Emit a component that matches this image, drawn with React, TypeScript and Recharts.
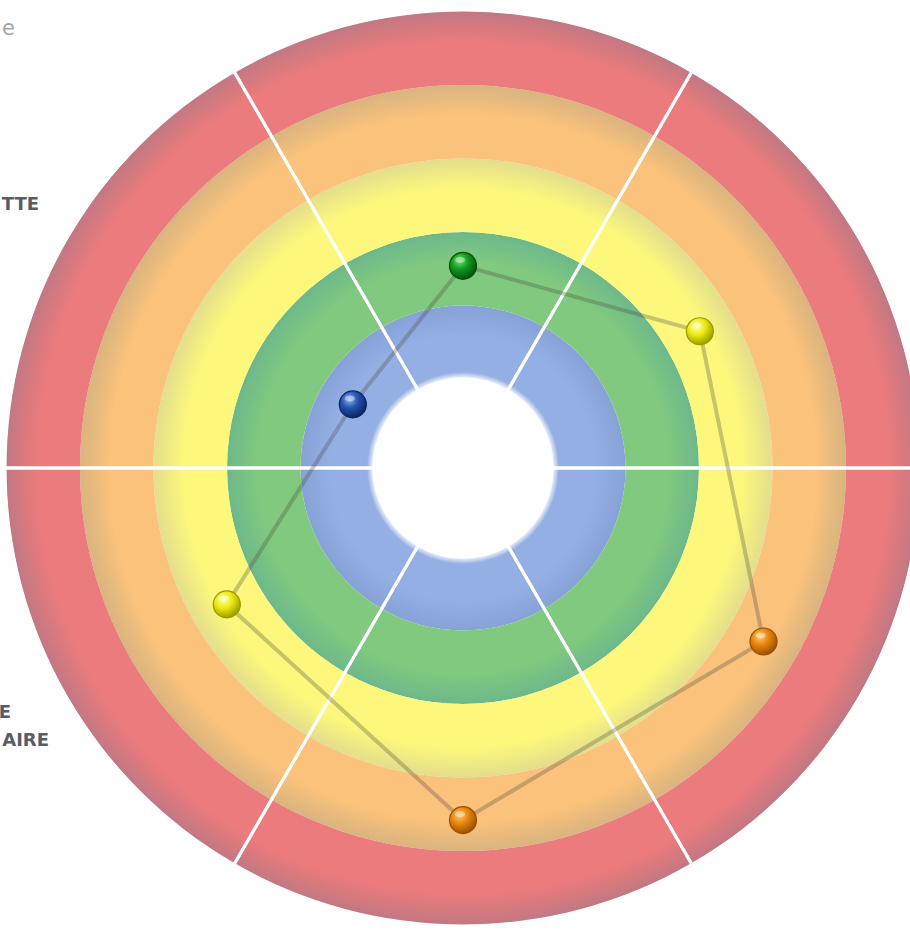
import React from "react";
import { PieChart, Pie, Cell, RadarChart, Radar, PolarAngleAxis, PolarRadiusAxis } from "recharts";

// six axes, clockwise from the top
const axes = ["A1", "A2", "A3", "A4", "A5", "A6"];
const scores = [1.54, 2.51, 3.51, 3.58, 2.5, 0.52];

// bands 0-1 .. 4-5 (blue, green, yellow, orange, red)
const bands = [1, 2, 3, 4, 5];
const sectors = [1, 1, 1, 1, 1, 1];

const W = 910;
const H = 932;
const CX = 463;
const CY = 468;
const INNER = 89;
const STEP = 73.5;
const MAX = 5;

const ringBase = ["#94afe4", "#80c97f", "#fdf87b", "#fbc27b", "#eb7b7c"];
const ringEdge = ["#86a2d6", "#6db88b", "#e3de8c", "#d9b47f", "#c27883"];

const balls: Record<string, string[]> = {
  blue: ["#8fb2f0", "#2352b0", "#0a2560"],
  green: ["#6fe06f", "#139a1f", "#04500a"],
  yellow: ["#ffffb0", "#ecec12", "#9a9a00"],
  orange: ["#ffc870", "#e9860e", "#985000"],
};
const ballForBand = ["blue", "green", "yellow", "orange", "orange"];

const data = axes.map((axe, i) => ({ axe, score: scores[i] }));

const rIn = (k: number) => INNER + k * STEP;

function Ball(props: any) {
  const { cx, cy, payload, index } = props;
  let v = payload?.score ?? payload?.payload?.score;
  if (typeof v !== "number") v = typeof props.value === "number" ? props.value : scores[index] ?? 0;
  const name = ballForBand[Math.min(4, Math.floor(v))];
  const dark = balls[name][2];
  return (
    <g key={`ball-${index}`}>
      <circle cx={cx} cy={cy} r={13.5} fill={`url(#ball-${name})`} stroke={dark} strokeWidth={1.2} />
      <ellipse cx={cx - 3} cy={cy - 6} rx={5} ry={3} fill="#fff" opacity={0.4} />
    </g>
  );
}

const labelStyle: React.CSSProperties = {
  position: "absolute",
  fontFamily: "DejaVu Sans, sans-serif",
  fontWeight: "bold",
  fontSize: 18,
  color: "#565d66",
  whiteSpace: "nowrap",
  lineHeight: "20px",
};

export default function App() {
  return (
    <div style={{ position: "absolute", left: 0, top: 0, width: W, height: H, overflow: "hidden", background: "#fff" }}>
      <div style={{ position: "absolute", left: 0, top: 0 }}>
        <PieChart width={W} height={H} margin={{ top: 0, right: 0, bottom: 0, left: 0 }}>
          <defs>
            {bands.map((b, k) => {
              const ri = rIn(k);
              const ro = rIn(k + 1);
              const f = (r: number) => `${(r / ro) * 100}%`;
              return (
                <radialGradient key={b} id={`ring-${k}`} gradientUnits="userSpaceOnUse" cx={CX} cy={CY} r={ro}>
                  <stop offset={f(ri)} stopColor={k === 0 ? "#ffffff" : ringBase[k]} />
                  <stop offset={f(ri + (k === 0 ? 7 : 2))} stopColor={ringBase[k]} />
                  <stop offset={f(ro - 30)} stopColor={ringBase[k]} />
                  <stop offset="100%" stopColor={ringEdge[k]} />
                </radialGradient>
              );
            })}
          </defs>
          {bands.map((b, k) => (
            <Pie
              key={b}
              data={[{ band: b, value: 1 }]}
              dataKey="value"
              cx={CX}
              cy={CY}
              innerRadius={rIn(k)}
              outerRadius={rIn(k + 1)}
              startAngle={0}
              endAngle={360}
              stroke="none"
              isAnimationActive={false}
            >
              <Cell fill={`url(#ring-${k})`} />
            </Pie>
          ))}
          <Pie
            data={sectors.map((v, i) => ({ name: `s${i}`, value: v }))}
            dataKey="value"
            cx={CX}
            cy={CY}
            innerRadius={INNER}
            outerRadius={rIn(MAX) + 2}
            startAngle={0}
            endAngle={360}
            fill="none"
            stroke="#ffffff"
            strokeWidth={3}
            isAnimationActive={false}
          />
        </PieChart>
      </div>
      <div style={{ position: "absolute", left: 0, top: 0 }}>
        <RadarChart
          width={W}
          height={H}
          data={data}
          cx={CX}
          cy={CY}
          innerRadius={INNER}
          outerRadius={rIn(MAX)}
          margin={{ top: 0, right: 0, bottom: 0, left: 0 }}
        >
          <defs>
            {Object.keys(balls).map((name) => (
              <radialGradient key={name} id={`ball-${name}`} cx="38%" cy="32%" r="70%">
                <stop offset="0%" stopColor={balls[name][0]} />
                <stop offset="45%" stopColor={balls[name][1]} />
                <stop offset="100%" stopColor={balls[name][2]} />
              </radialGradient>
            ))}
          </defs>
          <PolarAngleAxis dataKey="axe" tick={false} axisLine={false} tickLine={false} />
          <PolarRadiusAxis domain={[0, MAX]} tick={false} axisLine={false} tickLine={false} />
          <Radar
            dataKey="score"
            stroke="#4a4a3a"
            strokeOpacity={0.3}
            strokeWidth={4}
            fill="none"
            fillOpacity={0}
            dot={Ball}
            isAnimationActive={false}
          />
        </RadarChart>
      </div>
      <div style={{ ...labelStyle, right: W - 15, top: 18, fontWeight: "normal", fontSize: 21, color: "#a6a6a6" }}>
        e
      </div>
      <div style={{ ...labelStyle, right: W - 39, top: 194 }}>TTE</div>
      <div style={{ ...labelStyle, right: W - 11, top: 702 }}>E</div>
      <div style={{ ...labelStyle, right: W - 49, top: 730 }}>AIRE</div>
    </div>
  );
}
